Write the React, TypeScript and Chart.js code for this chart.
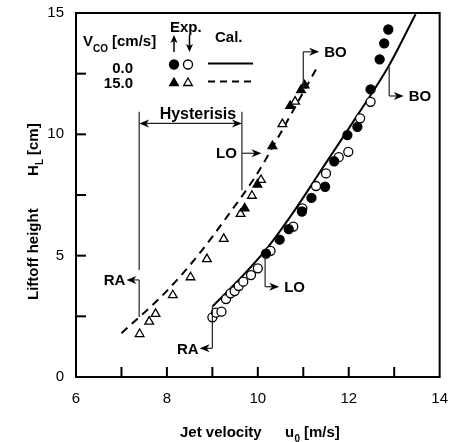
import React, { useEffect, useRef } from "react";
import { Chart, registerables } from "chart.js";

Chart.register(...registerables);

const FONT = "'Liberation Sans', Arial, Helvetica, sans-serif";

// Axis ranges and tick spacing
const X_MIN = 6;
const X_MAX = 14;
const X_STEP = 1;
const X_LABELLED = [6, 8, 10, 12, 14];
const Y_MIN = 0;
const Y_MAX = 15;
const Y_STEP = 2.5;
const Y_LABELLED = [0, 5, 10, 15];

// Experiment: jet velocity u0 [m/s] vs liftoff height H_L [cm]
// V_CO = 0.0 cm/s, velocity increasing (filled circles)
const co0Up: [number, number][] = [
  [10.18, 5.08], [10.48, 5.66], [10.68, 6.09], [10.97, 6.82], [11.18, 7.38],
  [11.48, 7.84], [11.68, 8.89], [11.97, 9.97], [12.19, 10.31], [12.48, 11.85],
  [12.68, 13.09], [12.78, 13.75], [12.87, 14.32],
];
// V_CO = 0.0 cm/s, velocity decreasing (open circles)
const co0Down: [number, number][] = [
  [9.0, 2.46], [9.08, 2.65], [9.2, 2.69], [9.3, 3.21], [9.4, 3.45], [9.49, 3.54],
  [9.58, 3.75], [9.68, 3.93], [9.85, 4.2], [10.0, 4.48], [10.28, 5.2], [10.78, 6.2],
  [10.98, 6.95], [11.28, 7.87], [11.5, 8.39], [11.78, 9.06], [11.99, 9.28],
  [12.25, 10.66], [12.48, 11.34],
];
// V_CO = 15.0 cm/s, velocity increasing (filled triangles)
const co15Up: [number, number][] = [
  [9.71, 6.95], [9.99, 7.93], [10.32, 9.52], [10.71, 11.17], [10.95, 11.82], [11.03, 12.02],
];
// V_CO = 15.0 cm/s, velocity decreasing (open triangles)
const co15Down: [number, number][] = [
  [7.4, 1.77], [7.61, 2.28], [7.75, 2.6], [8.13, 3.37], [8.52, 4.11], [8.88, 4.86],
  [9.25, 5.69], [9.62, 6.72], [9.87, 7.47], [10.07, 8.12], [10.54, 10.42], [10.82, 11.35],
];

// Calculated liftoff height
const calCo0: [number, number][] = [
  [9.0, 2.9], [9.45, 3.75], [10.18, 5.25], [10.84, 6.95], [11.42, 8.6],
  [12.16, 10.7], [12.89, 12.85], [13.47, 14.95],
];
const calCo15: [number, number][] = [
  [7.0, 1.8], [8.0, 3.55], [8.72, 5.1], [9.3, 6.55], [9.96, 8.3], [10.44, 9.85], [11.3, 12.75],
];

// Transition markers (RA: reattachment, LO: liftoff, BO: blowout):
// stem at u0 = x from yFrom to yArrow, then an arrow to tipX
type Transition = { label: string; x: number; yFrom: number; yArrow: number; tipX: number; textAtStem?: boolean };
const transitions: Transition[] = [
  { label: "RA", x: 9.0, yFrom: 2.9, yArrow: 1.18, tipX: 8.72 },
  { label: "LO", x: 10.16, yFrom: 4.96, yArrow: 3.72, tipX: 10.47 },
  { label: "BO", x: 12.89, yFrom: 12.79, yArrow: 11.58, tipX: 13.21 },
  { label: "RA", x: 7.39, yFrom: 2.47, yArrow: 4.0, tipX: 7.11 },
  { label: "LO", x: 9.65, yFrom: 7.7, yArrow: 9.22, tipX: 10.08, textAtStem: true },
  { label: "BO", x: 11.0, yFrom: 11.83, yArrow: 13.4, tipX: 11.35 },
];

// Hysteresis span between reattachment and liftoff for V_CO = 15.0
const hysteresis = { from: 7.39, to: 9.65, y: 10.45, top: 10.93, leftBottom: 4.41, rightBottom: 9.22, textX: 7.84 };

const pts = (a: [number, number][]) => a.map(([x, y]) => ({ x, y }));

function arrowHead(ctx: CanvasRenderingContext2D, x: number, y: number, dir: number) {
  ctx.beginPath();
  ctx.moveTo(x, y);
  ctx.lineTo(x - dir * 10, y - 4);
  ctx.lineTo(x - dir * 7, y);
  ctx.lineTo(x - dir * 10, y + 4);
  ctx.closePath();
  ctx.fill();
}

function triangle(ctx: CanvasRenderingContext2D, x: number, y: number, r: number, filled: boolean) {
  ctx.beginPath();
  for (let i = 0; i < 3; i++) {
    const a = (i * 2 * Math.PI) / 3;
    const px = x + Math.sin(a) * r;
    const py = y - Math.cos(a) * r;
    if (i === 0) ctx.moveTo(px, py);
    else ctx.lineTo(px, py);
  }
  ctx.closePath();
  ctx.fillStyle = filled ? "#000" : "#fff";
  ctx.fill();
  ctx.lineWidth = 1.3;
  ctx.strokeStyle = "#000";
  ctx.stroke();
}

function circle(ctx: CanvasRenderingContext2D, x: number, y: number, r: number, filled: boolean) {
  ctx.beginPath();
  ctx.arc(x, y, r, 0, Math.PI * 2);
  ctx.fillStyle = filled ? "#000" : "#fff";
  ctx.fill();
  ctx.lineWidth = 1.3;
  ctx.strokeStyle = "#000";
  ctx.stroke();
}

const overlay = {
  id: "overlay",
  afterDatasetsDraw(chart: any) {
    const ctx: CanvasRenderingContext2D = chart.ctx;
    const xs = chart.scales.x;
    const ys = chart.scales.y;
    const area = chart.chartArea;
    const px = (v: number) => xs.getPixelForValue(v);
    const py = (v: number) => ys.getPixelForValue(v);
    const seg = (x1: number, y1: number, x2: number, y2: number) => {
      ctx.beginPath();
      ctx.moveTo(x1, y1);
      ctx.lineTo(x2, y2);
      ctx.stroke();
    };

    ctx.save();
    // Frame
    ctx.strokeStyle = "#000";
    ctx.lineWidth = 2;
    ctx.strokeRect(area.left, area.top, area.right - area.left, area.bottom - area.top);

    // Inward tick marks
    xs.ticks.forEach((t: any) => {
      if (t.value > X_MIN && t.value < X_MAX) seg(px(t.value), area.bottom, px(t.value), area.bottom - 10);
    });
    ys.ticks.forEach((t: any) => {
      if (t.value > Y_MIN && t.value < Y_MAX) seg(area.left, py(t.value), area.left + 10, py(t.value));
    });

    // Transition markers
    ctx.strokeStyle = "#222";
    ctx.fillStyle = "#000";
    ctx.lineWidth = 1.2;
    ctx.font = `bold 15px ${FONT}`;
    ctx.textBaseline = "middle";
    transitions.forEach((m) => {
      const sx = px(m.x);
      const ay = py(m.yArrow);
      const tx = px(m.tipX);
      const dir = tx > sx ? 1 : -1;
      seg(sx, py(m.yFrom), sx, ay);
      seg(sx, ay, tx - dir * 6, ay);
      arrowHead(ctx, tx, ay, dir);
      if (m.textAtStem) {
        ctx.textAlign = "right";
        ctx.fillText(m.label, sx - 5, ay + 1);
      } else if (dir > 0) {
        ctx.textAlign = "left";
        ctx.fillText(m.label, tx + 5, ay + 1);
      } else {
        ctx.textAlign = "right";
        ctx.fillText(m.label, tx - 1, ay + 1);
      }
    });

    // Hysteresis span
    const hl = px(hysteresis.from);
    const hr = px(hysteresis.to);
    const hy = py(hysteresis.y);
    seg(hl, py(hysteresis.top), hl, py(hysteresis.leftBottom));
    seg(hr, py(hysteresis.top), hr, py(hysteresis.rightBottom));
    seg(hl + 6, hy, hr - 6, hy);
    arrowHead(ctx, hl, hy, -1);
    arrowHead(ctx, hr, hy, 1);
    ctx.textAlign = "left";
    ctx.textBaseline = "alphabetic";
    ctx.font = `bold 16px ${FONT}`;
    ctx.fillText("Hysterisis", px(hysteresis.textX), hy - 4);

    // Legend
    ctx.fillStyle = "#000";
    ctx.font = `bold 15px ${FONT}`;
    ctx.textAlign = "left";
    ctx.fillText("V", 83, 46);
    ctx.font = `bold 10px ${FONT}`;
    ctx.fillText("CO", 93, 52);
    ctx.font = `bold 15px ${FONT}`;
    ctx.fillText("[cm/s]", 112, 46);
    ctx.fillText("Exp.", 170, 32);
    ctx.fillText("Cal.", 215, 42);
    ctx.textAlign = "right";
    ctx.fillText("0.0", 133, 73);
    ctx.fillText("15.0", 133, 88);
    // up / down arrows under "Exp."
    ctx.strokeStyle = "#000";
    ctx.lineWidth = 1.5;
    seg(174, 52, 174, 38);
    ctx.beginPath();
    ctx.moveTo(174, 35); ctx.lineTo(170.5, 43); ctx.lineTo(174, 41); ctx.lineTo(177.5, 43); ctx.closePath(); ctx.fill();
    seg(189.5, 35, 189.5, 49);
    ctx.beginPath();
    ctx.moveTo(189.5, 52); ctx.lineTo(186, 44); ctx.lineTo(189.5, 46); ctx.lineTo(193, 44); ctx.closePath(); ctx.fill();
    circle(ctx, 174, 64.5, 4.5, true);
    circle(ctx, 188, 64.5, 4.5, false);
    triangle(ctx, 174, 83, 5, true);
    triangle(ctx, 188, 83, 5, false);
    ctx.strokeStyle = "#000";
    ctx.lineWidth = 2;
    seg(208, 63.5, 253, 63.5);
    ctx.setLineDash([7, 5]);
    seg(208, 81.5, 253, 81.5);
    ctx.setLineDash([]);

    // Axis titles
    ctx.fillStyle = "#000";
    ctx.textAlign = "left";
    ctx.textBaseline = "alphabetic";
    ctx.font = `bold 15px ${FONT}`;
    ctx.fillText("Jet velocity", 180, 437);
    ctx.fillText("u", 285, 437);
    ctx.font = `bold 10px ${FONT}`;
    ctx.fillText("0", 294.5, 442);
    ctx.font = `bold 15px ${FONT}`;
    ctx.fillText("[m/s]", 304, 437);

    ctx.save();
    ctx.translate(38, 0);
    ctx.rotate(-Math.PI / 2);
    // rotated frame: x runs upward (negative screen y)
    ctx.font = `bold 15px ${FONT}`;
    ctx.fillText("Liftoff height", -300, 0);
    ctx.fillText("H", -176, 0);
    ctx.font = `bold 10px ${FONT}`;
    ctx.fillText("L", -165, 5);
    ctx.font = `bold 15px ${FONT}`;
    ctx.fillText("[cm]", -155, 0);
    ctx.restore();

    ctx.restore();
  },
};

export default function App() {
  const ref = useRef<HTMLCanvasElement>(null);

  useEffect(() => {
    const canvas = ref.current;
    if (!canvas) return;
    const markerBase = { showLine: false, borderColor: "#000", borderWidth: 1.3, order: 1 };
    const chart = new Chart(canvas, {
      type: "scatter",
      data: {
        datasets: [
          {
            label: "Cal. 0.0",
            data: pts(calCo0),
            showLine: true,
            pointRadius: 0,
            borderColor: "#000",
            borderWidth: 2,
            cubicInterpolationMode: "monotone",
            order: 2,
          } as any,
          {
            label: "Cal. 15.0",
            data: pts(calCo15),
            showLine: true,
            pointRadius: 0,
            borderColor: "#000",
            borderWidth: 2,
            borderDash: [8, 6],
            cubicInterpolationMode: "monotone",
            order: 2,
          } as any,
          { ...markerBase, label: "0.0 up", data: pts(co0Up), pointStyle: "circle", pointRadius: 4.5, backgroundColor: "#000" },
          { ...markerBase, label: "0.0 down", data: pts(co0Down), pointStyle: "circle", pointRadius: 4.5, backgroundColor: "#fff" },
          { ...markerBase, label: "15.0 up", data: pts(co15Up), pointStyle: "triangle", pointRadius: 5, backgroundColor: "#000" },
          { ...markerBase, label: "15.0 down", data: pts(co15Down), pointStyle: "triangle", pointRadius: 5, backgroundColor: "#fff" },
        ],
      },
      options: {
        animation: false,
        responsive: false,
        devicePixelRatio: 1,
        layout: { padding: { left: 0, right: 12, top: 13, bottom: 0 } },
        plugins: { legend: { display: false }, tooltip: { enabled: false } },
        scales: {
          x: {
            type: "linear",
            min: X_MIN,
            max: X_MAX,
            afterFit: (s: any) => { s.height = 65; },
            grid: { display: false },
            border: { display: false },
            ticks: {
              stepSize: X_STEP,
              autoSkip: false,
              maxRotation: 0,
              padding: 5,
              color: "#000",
              font: { family: FONT, size: 15 },
              callback: (v: any) => (X_LABELLED.includes(Number(v)) ? String(v) : ""),
            },
          },
          y: {
            type: "linear",
            min: Y_MIN,
            max: Y_MAX,
            afterFit: (s: any) => { s.width = 76; },
            grid: { display: false },
            border: { display: false },
            ticks: {
              stepSize: Y_STEP,
              autoSkip: false,
              padding: 4,
              color: "#000",
              font: { family: FONT, size: 15 },
              callback: (v: any) => (Y_LABELLED.includes(Number(v)) ? String(v) : ""),
            },
          },
        },
      } as any,
      plugins: [overlay],
    });
    return () => chart.destroy();
  }, []);

  return (
    <div style={{ position: "fixed", left: 0, top: 0, width: 453, height: 442, background: "#fff" }}>
      <canvas ref={ref} width={453} height={442} style={{ display: "block" }} />
    </div>
  );
}
